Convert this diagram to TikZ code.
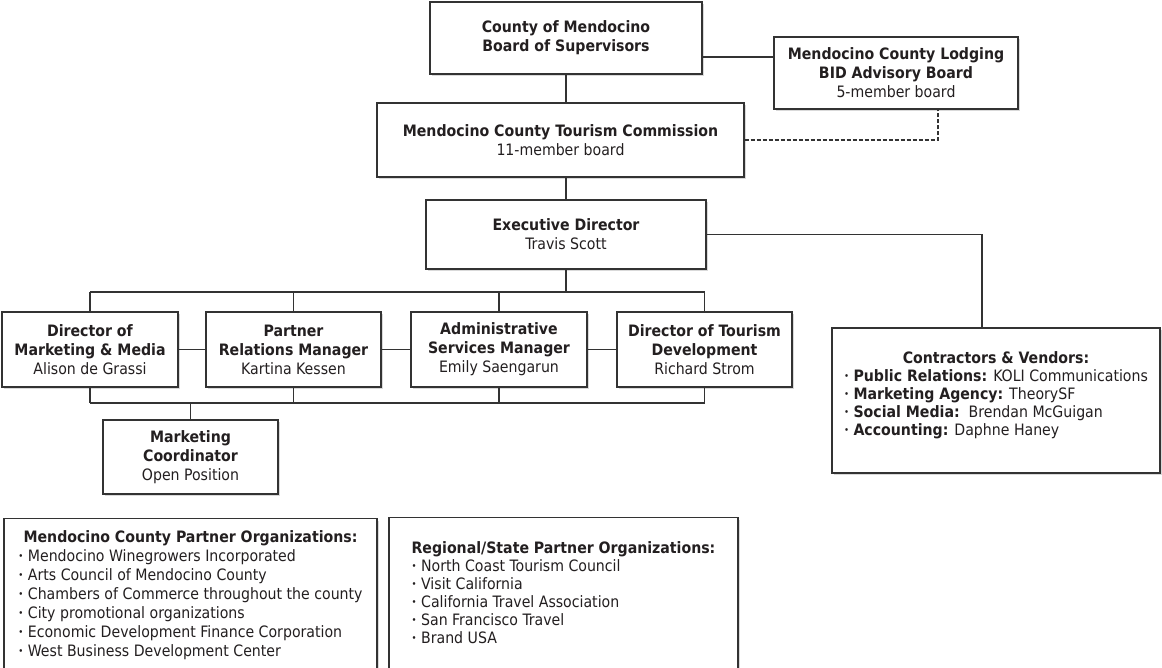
\documentclass[tikz,border=0pt]{standalone}
\usepackage{fontspec}
\setmainfont{DejaVu Sans Condensed}
\usetikzlibrary{shadows}
\definecolor{inkgray}{HTML}{231F20}
\definecolor{linegray}{HTML}{333333}
\newcommand{\bul}{\raisebox{0.2ex}{\fontsize{9.5}{9.5}\selectfont\textbullet}\ }

\begin{document}
\begin{tikzpicture}[x=1pt, y=-1pt, font=\fontsize{15.7}{19}\selectfont, text=inkgray,
    box/.style={draw=linegray, line width=1.4pt, fill=white, align=center, inner sep=0pt,
        drop shadow={shadow xshift=2pt, shadow yshift=-2pt, opacity=0.15, fill=black}},
    listbox/.style={box, anchor=north, inner xsep=6pt, text depth=200},
    link/.style={draw=linegray, line width=1.1pt}]
        \useasboundingbox (0, 0) rectangle (1162, 667);
        \clip (0, 0) rectangle (1162, 667);

        \node (bos) at (566, 38) [box, minimum width=272, minimum height=72] {\textbf{County of Mendocino}\\ \textbf{Board of Supervisors}};
        \node (bid) at (896, 73) [box, minimum width=244, minimum height=72] {\textbf{Mendocino County Lodging}\\ \textbf{BID Advisory Board}\\ 5-member board};
        \node (mctc) at (560.5, 140) [box, minimum width=367, minimum height=74] {\textbf{Mendocino County Tourism Commission}\\ 11-member board};
        \node (exec) at (566, 234.5) [box, minimum width=280, minimum height=69] {\textbf{Executive Director}\\ Travis Scott};

        \node (dmm) at (90, 349.5) [box, minimum width=176, minimum height=75] {\textbf{Director of}\\ \textbf{Marketing \& Media}\\ Alison de Grassi};
        \node (prm) at (293.5, 349.5) [box, minimum width=175, minimum height=75] {\textbf{Partner}\\ \textbf{Relations Manager}\\ Kartina Kessen};
        \node (asm) at (499, 349.5) [box, minimum width=176, minimum height=75] {\textbf{Administrative}\\ \textbf{Services Manager}\\ Emily Saengarun};
        \node (dtd) at (704.5, 349.5) [box, minimum width=175, minimum height=75] {\textbf{Director of Tourism}\\ \textbf{Development}\\ Richard Strom};
        \node (coord) at (190.5, 457) [box, minimum width=175, minimum height=74] {\textbf{Marketing}\\ \textbf{Coordinator}\\ Open Position};

        \node (cv) at (996, 400.5) [box, minimum width=328, minimum height=145, font=\fontsize{15.7}{18}\selectfont] {\begin{tabular}{@{}l@{}}
            \multicolumn{1}{@{}c@{}}{\textbf{Contractors \& Vendors:}}\\
            \bul\textbf{Public Relations:} KOLI Communications\\
            \bul\textbf{Marketing Agency:} TheorySF\\
            \bul\textbf{Social Media:}\ \ Brendan McGuigan\\
            \bul\textbf{Accounting:} Daphne Haney\\[10pt]
        \end{tabular}};

        \node (mcpo) at (190.5, 518) [listbox, minimum width=373, inner ysep=10.7] {\begin{tabular}[t]{@{}l@{}}
            \multicolumn{1}{@{}c@{}}{\textbf{Mendocino County Partner Organizations:}}\\
            \bul Mendocino Winegrowers Incorporated\\
            \bul Arts Council of Mendocino County\\
            \bul Chambers of Commerce throughout the county\\
            \bul City promotional organizations\\
            \bul Economic Development Finance Corporation\\
            \bul West Business Development Center
        \end{tabular}};
        \node (rspo) at (563.5, 517) [listbox, minimum width=349, inner ysep=22.7, font=\fontsize{15.7}{18}\selectfont] {\begin{tabular}[t]{@{}l@{}}
            \multicolumn{1}{@{}c@{}}{\textbf{Regional/State Partner Organizations:}}\\
            \bul North Coast Tourism Council\\
            \bul Visit California\\
            \bul California Travel Association\\
            \bul San Francisco Travel\\
            \bul Brand USA
        \end{tabular}};

        % upper levels
        \draw [link] (bos.south) -- (bos.south |- mctc.north);
        \coordinate (bidin) at ([yshift=16pt]bid.west);
        \draw [link] (bidin) -- (bidin -| bos.east);
        \draw [link, dash pattern=on 4pt off 2pt] (mctc.east) -| ([xshift=42pt]bid.south);
        \draw [link] (exec.north |- mctc.south) -- (exec.north);
        \draw [link] (exec.east) -| ([xshift=-14pt]cv.north);

        % staff
        \coordinate (topbus) at (566, 292);
        \coordinate (lowbus) at (566, 403);
        \draw [link] (exec.south) -- (topbus);
        \draw [link] (dmm.north |- topbus) -- (dtd.north |- topbus);
        \foreach \b in {dmm, prm, asm, dtd}
            {\draw [link] (\b.north |- topbus) -- (\b.north);}
        \foreach \a/\b in {dmm/prm, prm/asm, asm/dtd}
            {\draw [link] (\a.east) -- (\b.west);}
        \foreach \b in {dmm, prm, asm, dtd}
            {\draw [link] (\b.south) -- (\b.south |- lowbus);}
        \draw [link] (dmm.south |- lowbus) -- (dtd.south |- lowbus);
        \draw [link] (coord.north |- lowbus) -- (coord.north);
    \end{tikzpicture}
\end{document}
